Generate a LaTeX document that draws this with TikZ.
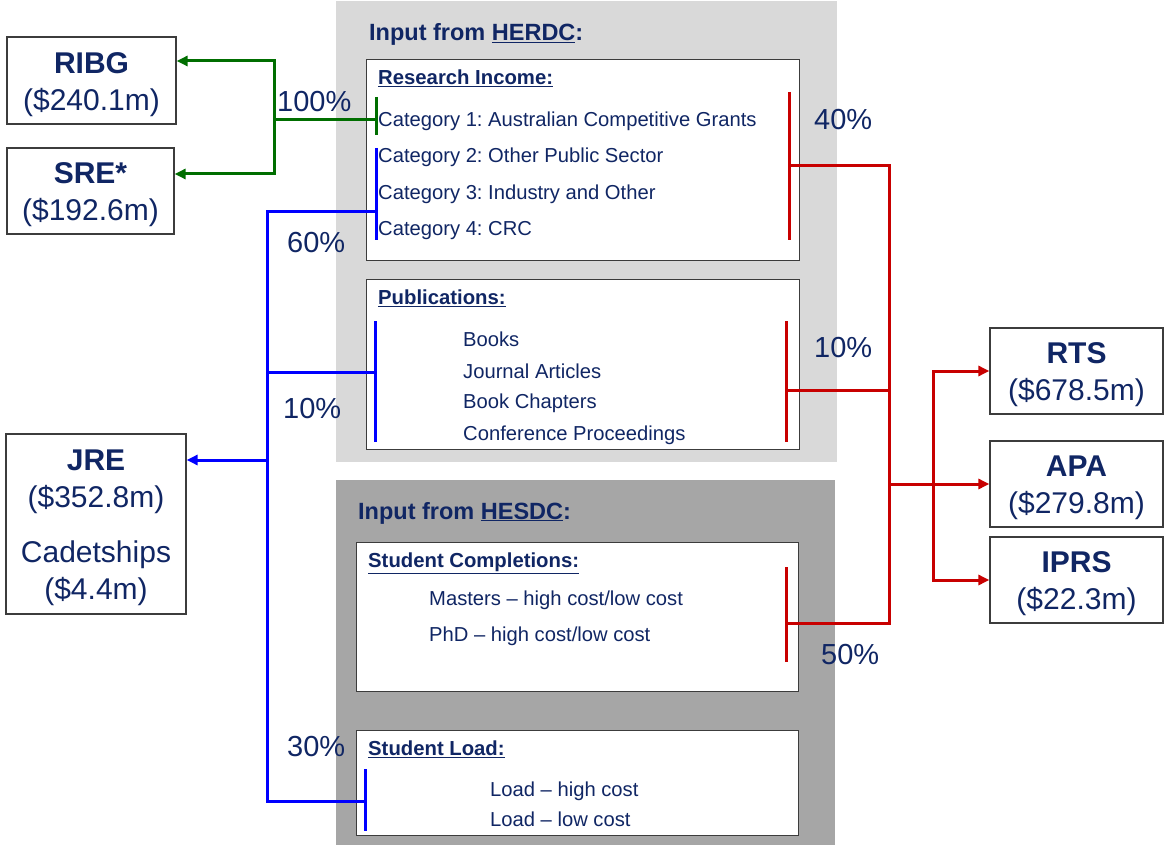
\documentclass[tikz,border=0pt]{standalone}
\usepackage{fontspec}
\setmainfont{Liberation Sans}
\usetikzlibrary{arrows.meta,calc}
\definecolor{navy}{RGB}{16,38,100}
\definecolor{lgray}{RGB}{217,217,217}
\definecolor{dgray}{RGB}{166,166,166}
\definecolor{grn}{RGB}{0,110,0}
\definecolor{blu}{RGB}{0,0,255}
\definecolor{rd}{RGB}{200,0,0}
\definecolor{bord}{RGB}{60,60,60}
\frenchspacing
\begin{document}
\begin{tikzpicture}[x=1pt,y=-1pt,
 panel/.style={draw=none,inner sep=0,anchor=north west},
 whitebox/.style={draw=bord,fill=white,line width=1.2pt,inner sep=0,anchor=north west},
 fundbox/.style={draw=bord,fill=white,line width=1.2pt,inner sep=0},
 fundtext/.style={inner sep=0,align=center,text=navy,font=\fontsize{30}{37}\selectfont},
 hdr/.style={anchor=base west,inner sep=0,text=navy,font=\fontsize{23.5}{28}\selectfont\bfseries},
 subhd/.style={anchor=base west,inner sep=0,text=navy,font=\fontsize{20.3}{24}\selectfont\bfseries},
 item/.style={anchor=base west,inner sep=0,text=navy,font=\fontsize{20.2}{24}\selectfont},
 pct/.style={anchor=base west,inner sep=0,text=navy,font=\fontsize{29}{34}\selectfont},
 conn/.style={line width=3pt},
 tip/.style={-{Triangle[length=11pt,width=10pt]}},
]
\useasboundingbox (0,0) rectangle (1165,845);

% panels
\node[panel,fill=lgray,minimum width=501,minimum height=461] (herdc) at (336,1) {};
\node[panel,fill=dgray,minimum width=499,minimum height=365] (hesdc) at (336,480) {};

% white boxes
\node[whitebox,minimum width=433,minimum height=201] (ri) at (366,59) {};
\node[whitebox,minimum width=433,minimum height=170] (pub) at (366,279) {};
\node[whitebox,minimum width=442,minimum height=149] (sc) at (356,542) {};
\node[whitebox,minimum width=442,minimum height=105] (sl) at (356,730) {};

% fund boxes
\node[fundbox,minimum width=169,minimum height=87] (ribg) at (91.5,80.5) {};
\node[fundbox,minimum width=167,minimum height=86] (sre) at (90.5,191) {};
\node[fundbox,minimum width=180,minimum height=180] (jre) at (96,524) {};
\node[fundbox,minimum width=173,minimum height=86] (rts) at (1076.5,371) {};
\node[fundbox,minimum width=173,minimum height=86] (apa) at (1076.5,484) {};
\node[fundbox,minimum width=173,minimum height=86] (iprs) at (1076.5,580) {};
\node[fundtext] (ribgt) at ([yshift=-4pt]ribg.center) {\textbf{RIBG}\\(\$240.1m)};
\node[fundtext] (sret) at ([yshift=-4pt]sre.center) {\textbf{SRE*}\\(\$192.6m)};
\node[fundtext] (jret) at ([yshift=-4pt]jre.center) {\textbf{JRE}\\(\$352.8m)\\[18pt]Cadetships\\(\$4.4m)};
\node[fundtext] (rtst) at ([yshift=-4pt]rts.center) {\textbf{RTS}\\(\$678.5m)};
\node[fundtext] (apat) at ([yshift=-4pt]apa.center) {\textbf{APA}\\(\$279.8m)};
\node[fundtext] (iprst) at ([yshift=-4pt]iprs.center) {\textbf{IPRS}\\(\$22.3m)};

% texts (baselines)
\node[hdr] (h1) at (369,40.5) {Input from \underline{HERDC}:};
\node[subhd] (s1) at (378,85) {\underline{Research Income:}};
\node[item] (c1) at (378,127) {Category 1: Australian Competitive Grants};
\node[item] (c2) at (378,163) {Category 2: Other Public Sector};
\node[item] (c3) at (378,199.5) {Category 3: Industry and Other};
\node[item] (c4) at (378,236) {Category 4: CRC};
\node[subhd] (s2) at (378,305) {\underline{Publications:}};
\node[item] (p1) at (463,346) {Books};
\node[item] (p2) at (463,378) {Journal Articles};
\node[item] (p3) at (463,408.5) {Book Chapters};
\node[item] (p4) at (463,440) {Conference Proceedings};
\node[hdr] (h2) at (358,519) {Input from \underline{HESDC}:};
\node[subhd] (s3) at (368,567.5) {\underline{Student Completions:}};
\node[item] (m1) at (429,605) {Masters – high cost/low cost};
\node[item] (m2) at (429,641) {PhD – high cost/low cost};
\node[subhd] (s4) at (368,755.5) {\underline{Student Load:}};
\node[item] (l1) at (490,796.5) {Load – high cost};
\node[item] (l2) at (490,826.5) {Load – low cost};

% percentages
\node[pct] (q100) at (277,112) {100\%};
\node[pct] (q40) at (814,130) {40\%};
\node[pct] (q60) at (287,253) {60\%};
\node[pct] (q10l) at (283,418) {10\%};
\node[pct] (q10r) at (814,357) {10\%};
\node[pct] (q50) at (821,664) {50\%};
\node[pct] (q30) at (287,756) {30\%};

% ticks (brackets)
\draw[conn,grn] (376,97) -- (376,135);
\draw[conn,blu] (376,148) -- (376,240);
\draw[conn,blu] (375,321) -- (375,442);
\draw[conn,blu] (365,769) -- (365,831);
\draw[conn,rd] (789,92) -- (789,240);
\draw[conn,rd] (786,321) -- (786,442);
\draw[conn,rd] (786,567) -- (786,662);

\coordinate (g1) at (376,120);
\coordinate (gj) at (274,120);
\coordinate (b1) at (376,212);
\coordinate (b2) at (375,372);
\coordinate (b4) at (365,801);
\coordinate (bt) at (267,212);
\coordinate (bb) at (267,801);
\coordinate (r1) at (789,166);
\coordinate (r2) at (786,390);
\coordinate (r3) at (786,623);
\coordinate (rt) at (889,166);
\coordinate (rb) at (889,623);
\coordinate (rj) at (933,484);
\coordinate (ribgin) at ([yshift=19.5pt]ribg.east);
\coordinate (srein) at ([yshift=17pt]sre.east);
\coordinate (jrein) at ([yshift=64pt]jre.east);

% green connectors
\draw[conn,grn,tip] (g1) -- (gj) |- (ribgin);
\draw[conn,grn,tip] (gj) |- (srein);

% blue connectors
\draw[conn,blu] (b1) -- (bt) -- (bb) -- (b4);
\draw[conn,blu] (b2) -- (b2 -| bt);
\draw[conn,blu,tip] (bt |- jrein) -- (jrein);

% red connectors
\draw[conn,rd] (r1) -- (rt) -- (rb) -- (r3);
\draw[conn,rd] (r2) -- (r2 -| rt);
\draw[conn,rd,tip] (rt |- apa.west) -- (apa.west);
\draw[conn,rd,tip] (rj) |- (rts.west);
\draw[conn,rd,tip] (rj) |- (iprs.west);
\end{tikzpicture}
\end{document}
